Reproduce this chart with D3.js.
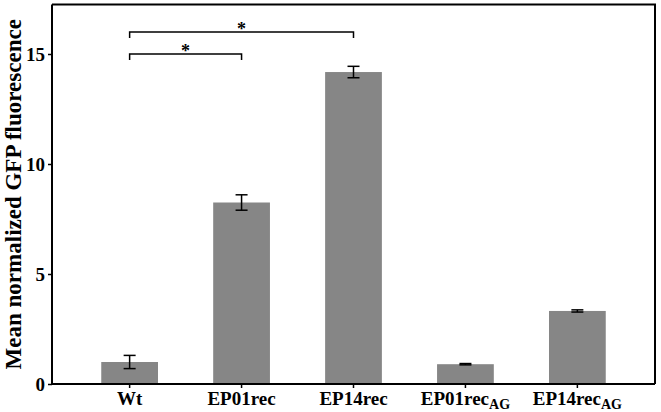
<!DOCTYPE html>
<html>
<head>
<meta charset="utf-8">
<script src="https://cdn.jsdelivr.net/npm/d3@7"></script>
<style>
  body { margin: 0; background: #fff; }
  svg text { font-family: "Liberation Serif", "Times New Roman", serif; font-weight: bold; fill: #000; }
</style>
</head>
<body>
<svg id="chart" width="661" height="412"></svg>
<script>
const categories = ["Wt", "EP01rec", "EP14rec", "EP01rec", "EP14rec"];
const subscripts = ["", "", "", "AG", "AG"];
const means = [1.0, 8.25, 14.18, 0.9, 3.32];
const errors = [0.3, 0.35, 0.26, 0.03, 0.05];
const yTicks = [0, 5, 10, 15];
// significance brackets: [from index, to index, level]
const brackets = [[0, 2, 16.0], [0, 1, 15.0]];

const svg = d3.select("#chart");
const mLeft = 52, mRight = 655, mTop = 4.5, mBottom = 384;

const x = d3.scaleBand()
    .domain(d3.range(categories.length))
    .range([mLeft, mRight])
    .paddingInner(0.493)
    .paddingOuter(0.44);

const y = d3.scaleLinear()
    .domain([0, 17.25])
    .range([mBottom, mTop]);

const cx = i => x(i) + x.bandwidth() / 2;

// frame (top and right)
svg.append("path")
    .attr("d", `M${mLeft},${mTop}H${mRight}V${mBottom}`)
    .attr("fill", "none")
    .attr("stroke", "#000")
    .attr("stroke-width", 2);

// bars
svg.selectAll("rect.bar")
    .data(means)
    .enter()
    .append("rect")
    .attr("class", "bar")
    .attr("x", (d, i) => x(i))
    .attr("y", d => y(d))
    .attr("width", x.bandwidth())
    .attr("height", d => y(0) - y(d))
    .attr("fill", "#868686");

// error bars
const eb = svg.selectAll("g.err")
    .data(means)
    .enter()
    .append("g")
    .attr("class", "err")
    .attr("stroke", "#000")
    .attr("stroke-width", 1.5);
eb.append("line")
    .attr("x1", (d, i) => cx(i)).attr("x2", (d, i) => cx(i))
    .attr("y1", (d, i) => y(d - errors[i])).attr("y2", (d, i) => y(d + errors[i]));
eb.append("line")
    .attr("x1", (d, i) => cx(i) - 6).attr("x2", (d, i) => cx(i) + 6)
    .attr("y1", (d, i) => y(d + errors[i])).attr("y2", (d, i) => y(d + errors[i]));
eb.append("line")
    .attr("x1", (d, i) => cx(i) - 6).attr("x2", (d, i) => cx(i) + 6)
    .attr("y1", (d, i) => y(d - errors[i])).attr("y2", (d, i) => y(d - errors[i]));

// y axis
const yAxis = svg.append("g")
    .attr("transform", `translate(${mLeft},0)`)
    .call(d3.axisLeft(y).tickValues(yTicks).tickSize(4).tickPadding(3));
yAxis.select(".domain").attr("stroke-width", 2).attr("d", `M0,${mTop}V${mBottom}`);
yAxis.selectAll(".tick line").attr("stroke-width", 1.5);
yAxis.selectAll("text").attr("font-size", 19);
yAxis.attr("font-family", null).attr("font-size", null);

// x axis
const xAxis = svg.append("g")
    .attr("transform", `translate(0,${mBottom})`)
    .call(d3.axisBottom(x).tickSize(4).tickFormat(""));
xAxis.select(".domain").attr("stroke-width", 2).attr("d", `M${mLeft},0H${mRight}`);
xAxis.selectAll(".tick line").attr("stroke-width", 1.5);

const xl = svg.selectAll("text.xl")
    .data(categories.map((c, i) => ({ name: c, sub: subscripts[i], i: i })))
    .enter()
    .append("text")
    .attr("class", "xl")
    .attr("x", d => cx(d.i))
    .attr("y", 405)
    .attr("text-anchor", "middle")
    .attr("font-size", 19);
xl.append("tspan").text(d => d.name);
xl.filter(d => d.sub)
    .append("tspan")
    .attr("font-size", 14)
    .attr("dy", 4)
    .text(d => d.sub);

// y label
svg.append("text")
    .attr("transform", `translate(21,${(mTop + mBottom) / 2}) rotate(-90)`)
    .attr("text-anchor", "middle")
    .attr("font-size", 23)
    .text("Mean normalized GFP fluorescence");

// significance brackets
const br = svg.selectAll("g.br")
    .data(brackets)
    .enter()
    .append("g")
    .attr("class", "br");
br.append("path")
    .attr("d", d => `M${cx(d[0])},${y(d[2]) + 6}V${y(d[2])}H${cx(d[1])}V${y(d[2]) + 6}`)
    .attr("fill", "none")
    .attr("stroke", "#000")
    .attr("stroke-width", 1.5);
br.append("text")
    .attr("x", d => (cx(d[0]) + cx(d[1])) / 2)
    .attr("y", d => y(d[2]) + 3)
    .attr("text-anchor", "middle")
    .attr("font-size", 18)
    .text("*");
</script>
</body>
</html>
